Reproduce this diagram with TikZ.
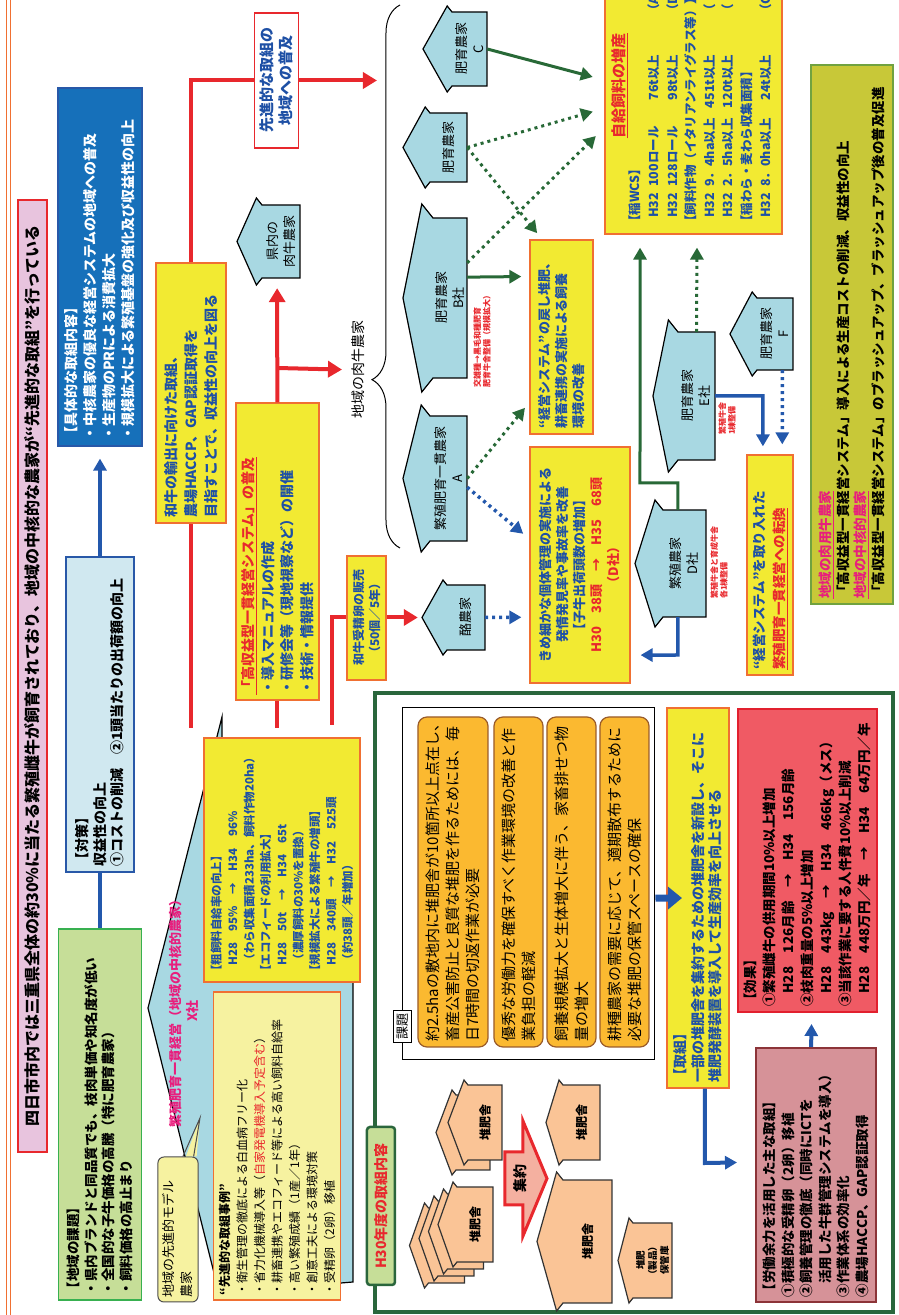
\documentclass[tikz,border=0pt]{standalone}
\usepackage{fontspec}
\setmainfont{Noto Sans CJK JP}
\usetikzlibrary{arrows.meta, calc, decorations.pathreplacing}

\definecolor{boxyellow}{RGB}{242,234,50}
\definecolor{boxorange}{RGB}{240,112,50}
\definecolor{txtblue}{RGB}{30,80,165}
\definecolor{signred}{RGB}{232,40,45}
\definecolor{magentatxt}{RGB}{232,30,125}
\definecolor{houseblue}{RGB}{168,216,226}
\definecolor{deepblue}{RGB}{22,112,186}
\definecolor{deepblueline}{RGB}{40,88,168}
\definecolor{paleblue}{RGB}{208,232,240}
\definecolor{leafgreen}{RGB}{198,222,152}
\definecolor{leafline}{RGB}{56,176,80}
\definecolor{titlepink}{RGB}{232,196,222}
\definecolor{olivebox}{RGB}{200,200,56}
\definecolor{oliveline}{RGB}{112,162,64}
\definecolor{orangebox}{RGB}{251,185,48}
\definecolor{brownline}{RGB}{154,92,42}
\definecolor{peach}{RGB}{250,196,150}
\definecolor{framegreen}{RGB}{42,102,60}
\definecolor{arrowgreen}{RGB}{40,105,55}
\definecolor{arrowblue}{RGB}{35,88,172}
\definecolor{rosebox}{RGB}{214,146,152}
\definecolor{roseline}{RGB}{140,52,56}
\definecolor{effectred}{RGB}{240,90,100}
\definecolor{effectline}{RGB}{226,32,46}
\definecolor{paleyellow}{RGB}{246,242,160}
\definecolor{arrowpink}{RGB}{244,176,160}

\newcommand{\fsz}[2]{\fontsize{#1}{#2}\selectfont}
% one row of the feed list: year, amount, yield, farm
\newcommand{\feedrow}[4]{\hspace*{10pt}\makebox[31pt][l]{#1}\makebox[77pt][l]{#2}\makebox[55pt][r]{#3}\hspace{38pt}#4}
% house: name, style, centre x, wall bottom, width, wall height, apex, eave, text
\newcommand{\farm}[9]{%
  \filldraw[#2] (#3-#5/2,#4) -- (#3-#5/2,#4+#6) -- (#3-#5/2-#8,#4+#6+0.8*#8)
    -- (#3,#7) -- (#3+#5/2+#8,#4+#6+0.8*#8) -- (#3+#5/2,#4+#6) -- (#3+#5/2,#4) -- cycle;
  \node[#2 text, minimum width=#5pt, minimum height=#6pt] (#1) at (#3,#4+#6/2) {#9};
}

\begin{document}
\begin{tikzpicture}[rotate=90, transform shape, x=1pt, y=1pt,
  box/.style={draw, line width=1.2pt, inner sep=5pt, align=left},
  ybox/.style={box, draw=boxorange, fill=boxyellow, text=txtblue},
  obox/.style={box, draw=brownline, fill=orangebox, rounded corners=9pt, text width=320pt, font=\fsz{15}{20}},
  house/.style={fill=houseblue, draw=black, line width=1.2pt},
  house text/.style={align=center, inner sep=0pt, font=\fsz{13}{17}},
  compost/.style={fill=peach, draw=black!80, line width=1.2pt},
  compost text/.style={align=center, inner sep=0pt, font=\fsz{12}{14}\bfseries},
  compostsmall/.style={compost},
  compostsmall text/.style={compost text, font=\fsz{9.5}{12}\bfseries},
  note/.style={text=signred, align=left, inner sep=0pt, font=\fsz{8}{9.5}\bfseries},
  redline/.style={draw=signred, line width=4pt},
  redarrow/.style={redline, -{Triangle[length=14pt,width=16pt]}},
  greenarrow/.style={draw=arrowgreen, line width=3pt, -{Triangle[length=12pt,width=13pt]}},
  greendots/.style={greenarrow, dash pattern=on 3pt off 4pt},
  bluearrow/.style={draw=arrowblue, line width=3.5pt, -{Triangle[length=12pt,width=13pt]}},
  bluedots/.style={bluearrow, dash pattern=on 3pt off 4pt},
  fatarrow/.style={draw=arrowblue, line width=7pt, -{Triangle[length=14pt,width=22pt]}}]

\useasboundingbox (0,0) rectangle (1315,899);
\clip (0,0) rectangle (1315,899);

\draw[boxorange, line width=1pt] (0,888) -- (1315,888);
\draw[boxorange, line width=1pt] (0,892.5) -- (1315,892.5);

\node[box, draw=signred, fill=titlepink, minimum width=952pt, minimum height=29pt, font=\fsz{16}{18}\bfseries] (title) at (639,866.5)
  {四日市市内では三重県全体の約30\%に当たる繁殖雌牛が飼育されており、地域の中核的な農家が“先進的な取組”を行っている};

% left column
\node[box, draw=leafline, fill=leafgreen, text width=361pt, minimum height=83pt, font=\fsz{13.5}{17.5}\bfseries] (kadai) at (200.5,799)
  {【地域の課題】\\・県内ブランドと同品質でも、枝肉単価や知名度が低い\\・全国的な子牛価格の高騰（特に肥育農家）\\・飼料価格の高止まり};
\node[box, draw=deepblueline, fill=paleblue, text width=305pt, minimum height=68pt, font=\fsz{14}{17.5}\bfseries] (taisaku) at (600.5,799)
  {【対策】\\収益性の向上\\①コストの削減　②1頭当たりの出荷額の向上};
\node[box, draw=deepblueline, fill=deepblue, text=white, text width=348pt, minimum height=84pt, font=\fsz{14}{19}\bfseries] (gutai) at (1048,799)
  {【具体的な取組内容】\\・中核農家の優良な経営システムの地域への普及\\・生産物のPRによる消費拡大\\・規模拡大による繁殖基盤の強化及び収益性の向上};
\draw[arrowblue, line width=4pt] (kadai) -- (taisaku);
\draw[bluearrow, line width=4pt, shorten >=12pt] (taisaku) -- (gutai);

% model farm X
\filldraw[house] (307,751) -- (598,677) -- (577,677) -- (577,546) -- (33,546) -- (22,680) -- cycle;
\node[text=magentatxt, align=center, font=\fsz{13}{17}\bfseries] (xsha) at (304,715) {繁殖肥育一貫経営（地域の中核的農家）\\X社};
\node[box, draw=black!70, fill=paleyellow, rounded corners=6pt, line width=1pt, text width=135pt, minimum height=38pt, font=\fsz{13}{18}] (model) at (85.5,721)
  {地域の先進的モデル\\農家};
\fill[paleyellow] ($(model.north east)!0.62!(model.south east)+(0,-3)$) -- (197,699) -- ($(model.north east)!0.88!(model.south east)+(0,-3)$) -- cycle;
\draw[black!70, line width=1pt] ($(model.north east)!0.62!(model.south east)$) -- (197,699) -- ($(model.north east)!0.88!(model.south east)$);
\node[box, draw=boxorange, fill=paleyellow, text width=298pt, minimum height=122pt, font=\fsz{12}{17.5}] (jirei) at (169,622)
  {{\bfseries “先進的な取組事例”}\\・衛生管理の徹底による白血病フリー化\\・省力化機械導入等（{\color{signred}自家発電機導入予定含む}）\\・耕畜連携やエコフィード等による高い飼料自給率\\・高い繁殖成績（1産／1年）\\・創意工夫による環境対策\\・受精卵（2卵）移植};
\node[ybox, text width=234pt, minimum height=156pt, font=\fsz{11.5}{16.4}\bfseries] (soshiryo) at (455,617)
  {【粗飼料自給率の向上】\\　H28　95\%　→　H34　96\%\\　（わら収集面積233ha、飼料作物20ha）\\【エコフィードの利用拡大】\\　H28　50t　→　H34　65t\\　（濃厚飼料の30\%を置換）\\【規模拡大による繁殖牛の増頭】\\　H28　340頭　→　H32　525頭\\　（約38頭／年増加）};

% middle column
\node[ybox, text width=250pt, minimum height=70pt, font=\fsz{14}{20}\bfseries] (wagyu) at (922,708)
  {和牛の輸出に向けた取組、\\農場HACCP、GAP認証取得を\\目指すことで、収益性の向上を図る};
\node[box, draw=signred, fill=white, text=txtblue, align=center, minimum width=135pt, minimum height=43pt, font=\fsz{15}{19}\bfseries] (fukyu) at (1234.5,622.5)
  {先進的な取組の\\地域への普及};
\node[ybox, text width=287pt, minimum height=83pt, font=\fsz{14}{19.5}\bfseries] (koshueki) at (763.5,621.5)
  {{\color{signred}\underline{「高収益型一貫経営システム」の普及}}\\・導入マニュアルの作成\\・研修会等（現地視察など）の開催\\・技術・情報提供};

% farms
\farm{farmC}{house}{1266}{412}{74}{35}{476}{6}{肥育農家\\C}
\farm{farmM}{house}{1167.5}{432}{69}{37}{496}{6}{肥育農家}
\farm{farmB}{house}{1017}{432}{160}{34}{496}{14}{肥育農家\\B社}
\farm{farmA}{house}{836.5}{432}{125}{37}{496}{11}{繁殖肥育一貫農家\\A}
\farm{rakuno}{house}{697.5}{414}{65}{38}{477}{5}{酪農家}
\farm{farmD}{house}{751.5}{193}{107}{43}{264}{10}{繁殖農家\\D社}
\farm{farmE}{house}{919}{184}{128}{37}{246}{12}{肥育農家\\E社}
\farm{farmF}{house}{981}{106}{72}{36}{169}{6}{肥育農家\\F}
\farm{kennai}{house}{1073.5}{599}{73}{38}{662}{7}{県内の\\肉牛農家}

\node[font=\fsz{14}{16}] (chiiki) at (945,541) {地域の肉牛農家};
\draw[line width=1pt, decorate, decoration={brace, amplitude=28pt, aspect=0.31}] (767,499) -- (1310,499);

% red flow
\coordinate (xa) at (587,708);
\coordinate (xb) at (587,621.5);
\coordinate (xc) at (590,567);
\coordinate (rb) at (947,621.5);
\coordinate (bracetop) at (1234.5,522);
\draw[redline] (xa) -- (wagyu);
\draw[redline] (wagyu) -- (1234.5,708) -- (fukyu);
\draw[redarrow] (fukyu) -- (bracetop);
\draw[redline] (xb) -- (koshueki);
\draw[redarrow, shorten >=10pt] (koshueki) -- ($(kennai.south west)!0.6!(kennai.north west)$);
\draw[redarrow, shorten >=6pt] (rb) -- (chiiki);
\draw[redarrow, shorten >=29pt] (xc) -- (697.5,567) -- (rakuno.north);
\node[ybox, align=center, minimum width=124pt, minimum height=39pt, font=\fsz{12}{16}\bfseries] (jusei) at (697,532.5)
  {和牛受精卵の販売\\（50個／5年）};

% right column
\node[ybox, align=center, text width=226pt, minimum height=100pt, font=\fsz{13}{17}\bfseries] (kime) at (750,319)
  {きめ細かな個体管理の実施による\\発情発見率や事故率を改善\\【子牛出荷頭数の増加】\\{\color{signred}H30　38頭　→　H35　68頭}\\{\color{signred}（D社）}};
\node[ybox, text width=184pt, minimum height=63pt, font=\fsz{13}{17}\bfseries] (modoshi) at (978,337.5)
  {“経営システム”の戻し堆肥、\\耕畜連携の実施による飼養\\環境の改善};
\node[ybox, minimum width=296pt, minimum height=177pt] (jikyu) at (1229,205.5) {};
\node[text=signred, font=\fsz{15}{17}\bfseries, inner sep=0pt] (jikyuttl) at (1229,279) {\underline{自給飼料の増産}};
\node[anchor=north west, align=left, text=txtblue, inner sep=0pt, font=\fsz{12.5}{18.6}\bfseries] (jikyulist) at (1087,270)
  {【稲WCS】\\\feedrow{H32}{100ロール}{76t以上}{（A}\\\feedrow{H32}{128ロール}{98t以上}{（D}\\【飼料作物（イタリアンライグラス等）】\\\feedrow{H32}{9．4ha以上}{451t以上}{（}\\\feedrow{H32}{2．5ha以上}{120t以上}{（}\\【稲わら・麦わら収集面積】\\\feedrow{H32}{8．0ha以上}{24t以上}{（C}};
\node[ybox, text width=210pt, minimum height=46pt, font=\fsz{13.5}{20}\bfseries] (keiei) at (750,129)
  {“経営システム”を取り入れた\\{\color{signred}\underline{繁殖肥育一貫経営への転換}}};
\node[box, draw=oliveline, fill=olivebox, line width=2pt, text width=529pt, minimum height=82pt, font=\fsz{13.5}{17.5}\bfseries] (olive) at (980.5,47)
  {{\color{magentatxt}\underline{地域の肉用牛農家}}\\「高収益型一貫経営システム」導入による生産コストの削減、収益性の向上\\{\color{magentatxt}\underline{地域の中核的農家}}\\「高収益型一貫経営システム」のブラッシュアップ、ブラッシュアップ後の普及促進};

\node[note] (noteB) at (975,417) {交雑種→黒毛和種肥育\\肥育牛舎整備（規模拡大）};
\node[note] (noteE) at (896,172) {繁殖牛舎\\1棟整備};
\node[note] (noteD) at (752,180) {繁殖牛舎と育成牛舎\\各1棟整備};

% farm to box arrows
\draw[greenarrow, shorten >=12pt] (farmC.south) -- ($(jikyu.north west)!0.52!(jikyu.north east)$);
\draw[greendots, shorten >=12pt] (farmM.south) -- ($(jikyu.north west)!0.425!(jikyu.north east)$);
\draw[greendots, shorten >=8pt] (farmM.south) -- ($(modoshi.north east)!0.2!(modoshi.south east)$);
\draw[greendots, shorten >=12pt] ($(farmB.south west)!0.72!(farmB.south east)$) -- ($(jikyu.north west)!0.36!(jikyu.north east)$);
\draw[greenarrow, shorten >=8pt] ($(farmB.south west)!0.63!(farmB.south east)$) -- ($(modoshi.north west)!0.81!(modoshi.north east)$);
\draw[greendots, shorten >=7pt] (farmA.south) -- ($(modoshi.north west)!0.165!(modoshi.north east)$);
\draw[bluedots, shorten >=8pt] ($(farmA.south west)!0.43!(farmA.south east)$) -- ($(kime.north west)!0.61!(kime.north east)$);
\draw[bluedots, shorten >=8pt] (rakuno.south) -- ($(kime.north west)!0.28!(kime.north east)$);
\draw[bluearrow, shorten >=10pt] ($(farmD.south west)!0.65!(farmD.north west)$) -- (660,221) -- ($(kime.south west)!0.12!(kime.south east)$);
\draw[greenarrow, shorten >=13pt] ($(farmD.south east)!0.65!(farmD.north east)$) -- (832,221) -- (832,259) -- ($(jikyu.south west)!0.8!(jikyu.north west)$);
\draw[greendots, shorten >=13pt] ($(farmE.south east)!0.5!(farmE.north east)$) -- ($(jikyu.south west)!0.48!(jikyu.north west)$);
\draw[bluearrow, shorten >=8pt] (farmE.south) -- (919,136) -- ($(keiei.south east)!0.65!(keiei.north east)$);
\draw[bluedots, shorten >=10pt] ($(farmF.south west)!0.3!(farmF.north west)$) -- ($(keiei.south east)!0.24!(keiei.north east)$);

% H30 frame
\draw[framegreen, line width=4pt] (3,6) rectangle (622,524);
\node[box, draw=framegreen, fill=leafgreen, rounded corners=3pt, line width=2.5pt, text=signred, align=center, minimum width=158pt, minimum height=28pt, font=\fsz{14}{16}\bfseries] (h30) at (109,518) {H30年度の取組内容};
\node[draw, line width=1pt, minimum width=352pt, minimum height=252pt] (kframe) at (431,370) {};
\node[draw, line width=1pt, fill=white, font=\fsz{13}{15}, inner sep=3pt] (tag) at (288,496.5) {課題};
\node[obox, minimum height=70pt] (o1) at (433,446)
  {約2.5haの敷地内に堆肥舎が10箇所以上点在し、\\畜産公害防止と良質な堆肥を作るためには、毎\\日7時間の切返作業が必要};
\node[obox, minimum height=49pt] (o2) at (433,380.5) {優秀な労働力を確保すべく作業環境の改善と作\\業負担の軽減};
\node[obox, minimum height=49pt] (o3) at (433,327.5) {飼養規模拡大と生体増大に伴う、家畜排せつ物\\量の増大};
\node[obox, minimum height=49pt] (o4) at (433,274.5) {耕種農家の需要に応じて、適期散布するために\\必要な堆肥の保管スペースの確保};

\node[ybox, text width=370pt, minimum height=62pt, font=\fsz{14}{17.5}\bfseries] (torikumi) at (417,201)
  {【取組】\\一部の堆肥舎を集約するための堆肥舎を新設し、そこに\\堆肥発酵装置を導入して生産効率を向上させる};
\draw[fatarrow, shorten >=16pt] ($(kframe.south west)!0.46!(kframe.south east)$) -- (torikumi.center);
\node[box, draw=roseline, fill=rosebox, line width=2pt, text width=244pt, minimum height=120pt, font=\fsz{13.5}{18.5}\bfseries] (rodo) at (140,83)
  {【労働余力を活用した主な取組】\\①積極的な受精卵（2卵）移植\\②飼養管理の徹底（同時にICTを\\　活用した牛群管理システムを導入）\\③作業体系の効率化\\④農場HACCP、GAP認証取得};
\node[box, draw=effectline, fill=effectred, line width=2pt, text width=293pt, minimum height=139pt, font=\fsz{13.5}{19}\bfseries] (koka) at (454.5,91.5)
  {【効果】\\①繁殖雌牛の供用期間10\%以上増加\\　H28　126月齢　→　H34　156月齢\\②枝肉重量の5\%以上増加\\　H28　443kg　→　H34　466kg（メス）\\③当該作業に要する人件費10\%以上削減\\　H28　448万円／年　→　H34　64万円／年};
\draw[bluearrow, line width=4pt, shorten >=18pt] ($(torikumi.south west)!0.39!(torikumi.north west)$) -- (152,194) -- ($(rodo.north west)!0.55!(rodo.north east)$);
\draw[bluearrow, line width=4pt, shorten >=11pt] ($(rodo.south east)!0.54!(rodo.north east)$) -- ($(koka.south west)!0.47!(koka.north west)$);

% compost sheds
\farm{shedA3}{compost}{69.5}{434.5}{75}{36}{489.5}{5}{}
\farm{shedA2}{compost}{76.5}{425}{75}{36}{480}{5}{}
\farm{shedA1}{compost}{83.5}{415.5}{75}{36}{470.5}{5}{}
\farm{shedA}{compost}{90.5}{406}{75}{36}{461}{5}{堆肥舎}
\farm{shedB2}{compost}{182.5}{409}{75}{34}{463}{5}{}
\farm{shedB}{compost}{192.5}{397}{75}{34}{451}{5}{堆肥舎}
\farm{shedC}{compost}{192.5}{299}{75}{37}{353}{5}{堆肥舎}
\farm{shedNew}{compost}{73.5}{287}{123}{49}{362}{8}{堆肥舎}
\farm{hokan}{compostsmall}{54.5}{227}{75}{39}{281}{5}{堆肥\\（製品）\\保管庫}
\filldraw[fill=arrowpink, draw=signred, line width=3pt] (110,394) -- (163,394) -- (163,376) -- (194,376) -- (136.5,352) -- (79,376) -- (110,376) -- cycle;
\node[font=\fsz{14}{16}\bfseries, inner sep=0pt] (shuyaku) at (136.5,379) {集約};

\end{tikzpicture}
\end{document}
